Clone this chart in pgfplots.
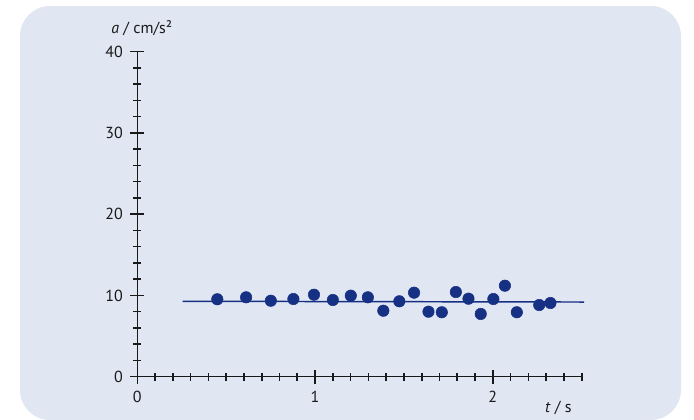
\documentclass[border=0pt]{standalone}
\usepackage{fontspec}
\setmainfont{PT Sans}
\usepackage{pgfplots}
\pgfplotsset{compat=1.18}
\definecolor{bgcol}{RGB}{224,230,242}
\definecolor{dotcol}{RGB}{22,48,132}
\definecolor{txtcol}{RGB}{25,25,25}
\pgfplotstableread{
t a
0.450 9.53
0.612 9.77
0.751 9.35
0.878 9.56
0.994 10.09
1.100 9.44
1.201 9.97
1.297 9.77
1.384 8.12
1.474 9.28
1.557 10.34
1.638 8.00
1.713 7.93
1.792 10.42
1.863 9.60
1.932 7.72
2.003 9.56
2.068 11.20
2.135 7.93
2.261 8.82
2.324 9.07
}\measured
\pgfplotstableread{
t a
0.255 9.28
2.514 9.19
}\fitline
\begin{document}
\begin{tikzpicture}
\useasboundingbox (0,0) rectangle (520.5pt,314.25pt);
\fill[bgcol, rounded corners=22.5pt] (15pt,-0.75pt) rectangle (510.75pt,309.75pt);
\begin{axis}[
  at={(102.98pt,31.73pt)}, anchor=south west,
  scale only axis, width=333.3pt, height=243.75pt,
  xmin=0, xmax=2.5, ymin=0, ymax=40,
  enlargelimits=false, clip=false,
  axis lines=left,
  axis line style={-, line width=1.2pt, txtcol},
  xtick={0,1,2}, ytick={0,10,20,30,40},
  minor xtick={0.1,0.2,0.3,0.4,0.5,0.6,0.7,0.8,0.9,1.1,1.2,1.3,1.4,1.5,1.6,1.7,1.8,1.9,2.1,2.2,2.3,2.4,2.5},
  minor ytick={2,4,6,8,12,14,16,18,22,24,26,28,32,34,36,38},
  tick align=center,
  major tick length=10.5pt, minor tick length=6pt,
  every tick/.append style={line width=1.2pt, draw=txtcol},
  every major tick/.append style={line width=1.2pt, draw=txtcol},
  every minor tick/.append style={line width=1.2pt, draw=txtcol},
  tick label style={font=\fontsize{12}{14}\selectfont, text=txtcol},
  xticklabel style={yshift=-2pt},
  yticklabel style={xshift=-2pt},
  /pgf/number format/assume math mode=true,
  xlabel={\textit{t} / s},
  xlabel style={at={(axis description cs:0.917,-0.1117)}, anchor=base west, inner sep=0pt, font=\fontsize{12}{14}\selectfont, text=txtcol},
  ylabel={\textit{a} / cm/s²},
  ylabel style={rotate=-90, at={(axis description cs:-0.059,1.0566)}, anchor=base west, inner sep=0pt, font=\fontsize{12}{14}\selectfont, text=txtcol},
]
\addplot[dotcol, line width=1.1pt, no marks] table[x=t,y=a] {\fitline};
\addplot[only marks, mark=*, mark size=4.3pt, mark options={fill=dotcol, draw=dotcol}] table[x=t,y=a] {\measured};
\end{axis}
\end{tikzpicture}
\end{document}
